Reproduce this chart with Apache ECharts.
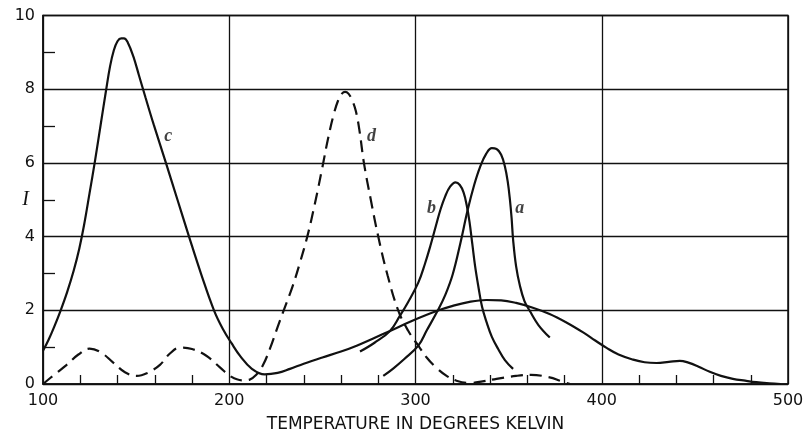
<!DOCTYPE html>
<html>
<head>
<meta charset="utf-8">
<script src="https://cdn.jsdelivr.net/npm/echarts@6/dist/echarts.min.js"></script>
<style>html,body{margin:0;padding:0;background:#fff}#c{width:809px;height:438px}</style>
</head>
<body>
<div id="c"></div>
<script>
const xTicks = [100, 200, 300, 400, 500];
const yTicks = [0, 2, 4, 6, 8, 10];
const xName = 'TEMPERATURE IN DEGREES KELVIN';
const yName = 'I';

const curveC = [[100,0.9],[103,1.2],[106,1.55],[109.5,2.0],[113,2.5],[116.5,3.08],[119.5,3.68],[122,4.3],[125,5.18],[127.9,6.05],[131,7.05],[133.8,7.95],[136,8.62],[138,9.05],[140,9.3],[142,9.38],[143.5,9.38],[145.5,9.27],[148.5,8.89],[151.5,8.38],[155,7.78],[159.5,7.03],[166,6.0],[172.2,5.0],[178.4,4.0],[185,2.97],[191.8,2.0],[196.5,1.5],[201.3,1.1],[206,0.75],[212,0.42],[219,0.26],[226,0.3],[232.6,0.41],[240,0.55],[250,0.72],[260,0.88],[268.4,1.04],[277,1.23],[286.3,1.44],[298,1.71],[311.3,1.98],[320,2.12],[329,2.23],[338,2.28],[346,2.27],[354,2.2],[363,2.07],[372,1.9],[381,1.67],[390,1.4],[396.5,1.18],[402.6,0.98],[409,0.8],[416.9,0.66],[423,0.59],[429.4,0.57],[436,0.6],[441.9,0.63],[446.5,0.58],[452,0.47],[458,0.33],[464,0.22],[470.4,0.14],[477,0.09],[483,0.05],[490,0.02],[496,0.0]];
const curveD = [[100,0],[106,0.25],[112.7,0.52],[119,0.8],[125,0.96],[131,0.86],[137.7,0.58],[144,0.32],[150.3,0.22],[156,0.3],[162.8,0.52],[168,0.82],[173.5,0.99],[180,0.95],[187.9,0.76],[195,0.45],[201,0.2],[207,0.1],[211,0.12],[214.5,0.25],[218,0.5],[222,0.98],[226,1.55],[230,2.1],[234,2.65],[238,3.3],[242,4.02],[246,4.9],[250,5.88],[253,6.65],[256,7.3],[258.5,7.7],[260.5,7.88],[262.2,7.93],[264,7.88],[266,7.7],[268,7.4],[270,6.85],[272.3,6.0],[276,5.0],[280,4.0],[285,2.95],[290.7,2.0],[296,1.45],[301.5,1.04],[306,0.72],[311,0.45],[316.7,0.22],[322,0.09],[329,0.03],[336,0.07],[343.5,0.14],[354,0.22],[362,0.25],[372,0.18],[378,0.08],[383,0]];
const curveB = [[270.2,0.88],[278,1.12],[286.3,1.44],[291.6,1.85],[296,2.22],[301.5,2.75],[305,3.25],[308,3.75],[311,4.3],[313.5,4.75],[316,5.1],[318.5,5.35],[321.5,5.47],[323.8,5.4],[325.8,5.2],[327.5,4.85],[329,4.4],[330.5,3.8],[332,3.2],[333.7,2.66],[335.7,2.1],[338.2,1.67],[341,1.28],[344.4,0.95],[348,0.65],[352.4,0.41]];
const curveA = [[282.7,0.22],[288,0.42],[294,0.68],[301.5,1.04],[306,1.45],[312,2.0],[316,2.42],[320,2.98],[324,3.8],[328,4.72],[331.5,5.4],[334.6,5.88],[338,6.25],[341,6.4],[343.5,6.38],[346,6.22],[348,5.9],[349.5,5.5],[350.7,5.0],[351.6,4.5],[352.4,3.92],[354,3.2],[356.1,2.66],[358.5,2.25],[361.4,1.98],[366,1.6],[372.1,1.26]];
const curveLabels = [['c',167.3,6.72],['d',276.4,6.72],['b',308.6,4.78],['a',356,4.78]];

const lineStyleBase = {color:'#111', width:2.2};
const common = {type:'line', smooth:0.4, showSymbol:false};
const chart = echarts.init(document.getElementById('c'), null, {renderer:'canvas'});
chart.setOption({
  animation:false,
  backgroundColor:'#fff',
  grid:{left:43, right:21, top:15.5, bottom:53, show:true, borderColor:'#111', borderWidth:1.5, containLabel:false},
  xAxis:{
    type:'value', min:xTicks[0], max:xTicks[xTicks.length-1], interval:100,
    name:xName, nameLocation:'middle', nameGap:32, nameMoveOverlap:false,
    nameTextStyle:{fontFamily:'DejaVu Sans', fontSize:17, color:'#111'},
    axisLine:{show:true, lineStyle:{color:'#111', width:1.5}},
    axisTick:{show:false, inside:true},
    minorTick:{show:true, splitNumber:5, length:9, lineStyle:{color:'#111', width:1.3}},
    splitLine:{show:true, lineStyle:{color:'#111', width:1.3}},
    axisLabel:{color:'#111', fontFamily:'DejaVu Sans', fontSize:16, margin:9,
      formatter:v=>xTicks.includes(v)?String(v):''}
  },
  yAxis:{
    type:'value', min:yTicks[0], max:yTicks[yTicks.length-1], interval:2,
    name:yName, nameLocation:'middle', nameGap:14, nameRotate:0, nameMoveOverlap:false,
    nameTextStyle:{fontFamily:'Liberation Serif', fontStyle:'italic', fontSize:20, color:'#111'},
    axisLine:{show:true, lineStyle:{color:'#111', width:1.5}},
    axisTick:{show:false, inside:true},
    minorTick:{show:true, splitNumber:2, length:12, lineStyle:{color:'#111', width:1.3}},
    splitLine:{show:true, lineStyle:{color:'#111', width:1.3}},
    axisLabel:{color:'#111', fontFamily:'DejaVu Sans', fontSize:16, margin:8,
      formatter:v=>yTicks.includes(v)?String(v):''}
  },
  series:[
    Object.assign({name:'c', data:curveC, lineStyle:lineStyleBase}, common),
    Object.assign({name:'d', data:curveD, lineStyle:Object.assign({}, lineStyleBase, {type:[12,7]})}, common),
    Object.assign({name:'b', data:curveB, lineStyle:lineStyleBase}, common),
    Object.assign({name:'a', data:curveA, lineStyle:lineStyleBase}, common),
    {type:'scatter', data:curveLabels.map(l=>({name:l[0], value:[l[1],l[2]]})), symbolSize:0,
      label:{show:true, position:'inside', formatter:p=>p.name, fontFamily:'Liberation Serif', fontStyle:'italic', fontWeight:'bold', fontSize:18, color:'#111'}}
  ]
});
</script>
</body>
</html>
